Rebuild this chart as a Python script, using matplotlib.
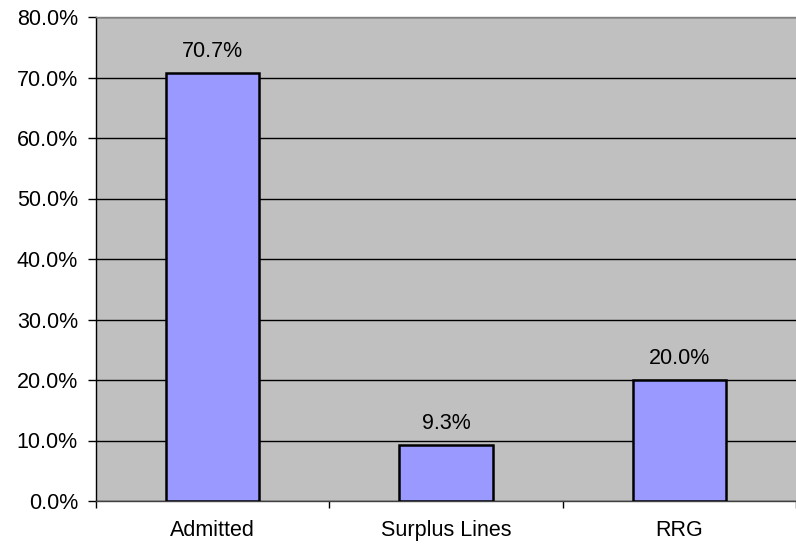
import matplotlib.pyplot as plt
from matplotlib.ticker import FuncFormatter, FixedLocator

categories = ["Admitted", "Surplus Lines", "RRG"]
shares = [0.707, 0.093, 0.200]
labels = ["70.7%", "9.3%", "20.0%"]
yticks = [0.0, 0.1, 0.2, 0.3, 0.4, 0.5, 0.6, 0.7, 0.8]

plt.rcParams["font.family"] = ["Liberation Sans", "DejaVu Sans"]
FS = 15.5

fig = plt.figure(figsize=(7.96, 5.44), dpi=100)
ax = fig.add_axes([96 / 796, 43 / 544, 700 / 796, 484 / 544])
ax.set_facecolor("#C0C0C0")

x = list(range(len(categories)))
ax.bar(x, shares, width=0.4, color="#9999FF", edgecolor="black", linewidth=1.8, zorder=3)

for xi, v, lab in zip(x, shares, labels):
    ax.annotate(lab, (xi, v), xytext=(0, 8), textcoords="offset points",
                ha="center", va="bottom", fontsize=FS)

ax.set_xlim(-0.5, 2.5)
ax.set_ylim(0, 0.8)
ax.set_yticks(yticks)
ax.yaxis.set_major_formatter(FuncFormatter(lambda v, p: f"{v * 100:.1f}%"))
ax.tick_params(axis="y", labelsize=FS, length=6, width=1, direction="out", pad=7)

ax.set_xticks(x)
ax.set_xticklabels(categories)
ax.tick_params(axis="x", which="major", length=0, labelsize=FS, pad=14)
ax.xaxis.set_minor_locator(FixedLocator([-0.5, 0.5, 1.5, 2.5]))
ax.tick_params(axis="x", which="minor", length=5, width=1)

ax.grid(axis="y", color="black", linewidth=1, zorder=1)
ax.set_axisbelow(True)

ax.spines["left"].set_color("black")
ax.spines["bottom"].set_color("#404040")
ax.spines["top"].set_color("#808080")
ax.spines["right"].set_visible(False)
for s in ax.spines.values():
    s.set_linewidth(1)

fig.savefig("out.png", dpi=100)
